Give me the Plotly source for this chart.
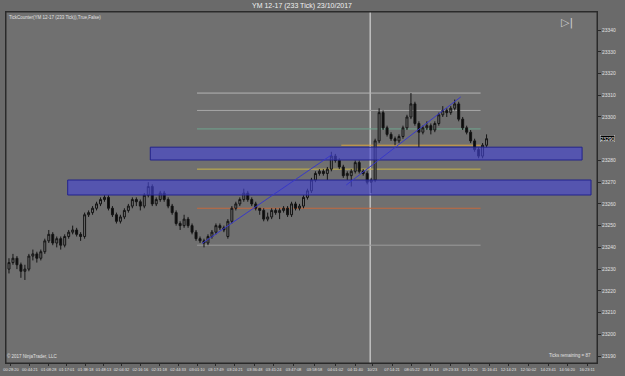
import plotly.graph_objects as go

# ---------------- data ----------------
opens = [23230, 23233, 23235, 23232, 23229, 23230, 23236, 23237, 23235, 23238,
         23243, 23246, 23242, 23244, 23241, 23245, 23247, 23248, 23246, 23245,
         23255, 23256, 23258, 23260, 23262, 23263, 23258, 23255, 23252, 23254,
         23257, 23259, 23262, 23261, 23259, 23264, 23268, 23260, 23262, 23265,
         23262, 23259, 23256, 23251, 23250, 23253, 23250, 23247, 23244, 23243,
         23242, 23245, 23247, 23250, 23249, 23245, 23252, 23258, 23260, 23262,
         23265, 23262, 23260, 23258, 23257, 23253, 23254, 23257, 23256, 23257,
         23258, 23255, 23260, 23258, 23259, 23263, 23266, 23271, 23274, 23275,
         23274, 23276, 23282, 23280, 23277, 23273, 23273, 23275, 23279, 23275,
         23274, 23270, 23271, 23289, 23302, 23295, 23292, 23290, 23289, 23291,
         23295, 23300, 23306, 23297, 23293, 23295, 23296, 23294, 23297, 23301,
         23303, 23302, 23304, 23306, 23299, 23295, 23293, 23289, 23285, 23282,
         23287]
highs = [23235, 23237, 23236, 23233, 23232, 23237, 23239, 23238, 23239, 23244,
         23248, 23247, 23245, 23245, 23246, 23248, 23250, 23249, 23247, 23256,
         23257, 23259, 23261, 23263, 23264, 23264, 23259, 23256, 23255, 23258,
         23260, 23263, 23263, 23262, 23265, 23270, 23269, 23263, 23266, 23266,
         23263, 23260, 23257, 23252, 23255, 23254, 23251, 23248, 23245, 23244,
         23246, 23248, 23251, 23251, 23250, 23253, 23259, 23261, 23263, 23267,
         23266, 23263, 23261, 23258, 23258, 23256, 23258, 23258, 23258, 23259,
         23259, 23261, 23261, 23260, 23264, 23267, 23272, 23275, 23276, 23276,
         23277, 23284, 23283, 23281, 23278, 23275, 23276, 23280, 23280, 23276,
         23275, 23272, 23290, 23304, 23303, 23296, 23293, 23291, 23292, 23296,
         23301, 23311, 23307, 23298, 23296, 23298, 23297, 23298, 23302, 23305,
         23304, 23305, 23308, 23307, 23300, 23296, 23294, 23290, 23286, 23288,
         23292]
lows = [23228, 23232, 23230, 23226, 23225, 23229, 23234, 23233, 23234, 23237,
        23242, 23241, 23240, 23239, 23240, 23244, 23246, 23245, 23243, 23244,
        23254, 23255, 23257, 23259, 23261, 23257, 23254, 23251, 23251, 23253,
        23256, 23258, 23259, 23257, 23258, 23263, 23259, 23259, 23261, 23261,
        23258, 23255, 23250, 23248, 23249, 23249, 23246, 23243, 23242, 23240,
        23241, 23244, 23246, 23248, 23247, 23244, 23251, 23257, 23259, 23261,
        23261, 23259, 23257, 23255, 23252, 23252, 23253, 23255, 23253, 23256,
        23254, 23254, 23257, 23257, 23258, 23262, 23265, 23270, 23273, 23273,
        23271, 23275, 23279, 23276, 23272, 23271, 23268, 23274, 23274, 23273,
        23269, 23265, 23270, 23288, 23294, 23291, 23289, 23287, 23288, 23290,
        23294, 23299, 23296, 23286, 23292, 23294, 23292, 23293, 23296, 23300,
        23300, 23301, 23303, 23298, 23294, 23292, 23288, 23284, 23281, 23281,
        23286]
closes = [23233, 23235, 23232, 23229, 23230, 23236, 23237, 23235, 23238, 23243,
          23246, 23242, 23244, 23241, 23245, 23247, 23248, 23246, 23245, 23255,
          23256, 23258, 23260, 23262, 23263, 23258, 23255, 23252, 23254, 23257,
          23259, 23262, 23261, 23259, 23264, 23268, 23260, 23262, 23265, 23262,
          23259, 23256, 23251, 23250, 23253, 23250, 23247, 23244, 23243, 23242,
          23245, 23247, 23250, 23249, 23248, 23252, 23258, 23260, 23262, 23265,
          23262, 23260, 23258, 23257, 23253, 23254, 23257, 23256, 23257, 23258,
          23255, 23260, 23258, 23259, 23263, 23266, 23271, 23274, 23275, 23274,
          23276, 23282, 23280, 23277, 23273, 23274, 23275, 23279, 23275, 23274,
          23270, 23271, 23289, 23302, 23295, 23292, 23290, 23289, 23291, 23295,
          23300, 23306, 23297, 23293, 23295, 23296, 23294, 23297, 23301, 23303,
          23302, 23304, 23306, 23299, 23295, 23293, 23289, 23285, 23282, 23287,
          23290]
bars = list(range(len(closes)))

# x-axis time labels (bar index position, label)
xtick_pos = [0.5, 5.25, 10, 14.5, 19.25, 23.75, 28.25, 33, 37.75, 42.5, 47.25,
             52, 56.75, 61.75, 66.5, 71.5, 76.75, 82, 87, 91.25, 96.25, 101.25,
             106, 111, 115.75, 120.75, 125.5, 130.5, 135.5, 140.25, 145.25, 150.25]
xtick_text = ["00:28:20", "00:44:21", "01:08:28", "01:17:01", "01:38:18", "01:48:13",
              "02:04:32", "02:16:16", "02:31:18", "02:44:33", "03:01:10", "03:17:49",
              "03:24:21", "03:36:48", "03:41:24", "03:47:08", "03:58:58", "04:01:02",
              "04:11:40", "10/23", "07:14:21", "08:05:22", "08:33:14", "09:23:33",
              "10:15:20", "11:16:41", "12:14:23", "12:50:02", "14:23:41", "14:56:20",
              "16:23:11", "16:41:33"]

# y-axis price labels
ytick_vals = [23340, 23330, 23320, 23310, 23300, 23280, 23270, 23260, 23250,
              23240, 23230, 23220, 23210, 23200, 23190]
last_price = 23290

# drawn objects
zone_x0 = [35.5, 14.75]
zone_x1 = [144.0, 146.25]
zone_lo = [23280.2, 23264.1]
zone_hi = [23286.1, 23271.0]

fib_levels = [23311.0, 23303.0, 23294.5, 23276.0, 23258.0, 23241.0]
fib_colors = ["#b4b4b4", "#a6a6a6", "#6fa58f", "#c8b446", "#c2683e", "#9a9a9a"]
fib_x0 = 47.25
fib_x1 = 118.5
extra_level = 23287.0
extra_x0 = 83.5

trend_x0 = [48.5, 84.75]
trend_y0 = [23241.8, 23268.7]
trend_x1 = [81.0, 113.5]
trend_y1 = [23282.5, 23309.2]

session_bar = 90.75

XR = [-0.75, 147.75]
YR = [23186.8, 23348.3]

BG = "#707070"
FONT = "Liberation Sans, Arial, sans-serif"

fig = go.Figure()
fig.add_trace(go.Candlestick(
    x=bars, open=opens, high=highs, low=lows, close=closes,
    increasing=dict(line=dict(color="#151515", width=1), fillcolor=BG),
    decreasing=dict(line=dict(color="#151515", width=1), fillcolor="#0a0a0a"),
    whiskerwidth=0, showlegend=False, hoverinfo="skip"))

shapes = []
for x0, x1, lo, hi in zip(zone_x0, zone_x1, zone_lo, zone_hi):
    shapes.append(dict(type="rect", xref="x", yref="y", x0=x0, x1=x1, y0=lo, y1=hi,
                       fillcolor="rgba(70,70,215,0.62)",
                       line=dict(color="#23238c", width=1), layer="above"))
for lvl, col in zip(fib_levels, fib_colors):
    shapes.append(dict(type="line", xref="x", yref="y", x0=fib_x0, x1=fib_x1,
                       y0=lvl, y1=lvl, line=dict(color=col, width=1), layer="below"))
shapes.append(dict(type="line", xref="x", yref="y", x0=extra_x0, x1=fib_x1,
                   y0=extra_level, y1=extra_level, line=dict(color="#d9a441", width=1),
                   layer="below"))
for x0, y0, x1, y1 in zip(trend_x0, trend_y0, trend_x1, trend_y1):
    shapes.append(dict(type="line", xref="x", yref="y", x0=x0, y0=y0, x1=x1, y1=y1,
                       line=dict(color="#3838c8", width=1), layer="above"))
shapes.append(dict(type="line", xref="x", yref="paper", x0=session_bar, x1=session_bar,
                   y0=0, y1=1, line=dict(color="#e6e6e6", width=1), layer="below"))
# outer frame
shapes.append(dict(type="rect", xref="paper", yref="paper", x0=0, x1=1, y0=0, y1=1,
                   line=dict(color="#2a2a2a", width=1), fillcolor="rgba(0,0,0,0)"))

in_vals = [p for p in xtick_pos if XR[0] <= p <= XR[1]]
in_text = [t for p, t in zip(xtick_pos, xtick_text) if XR[0] <= p <= XR[1]]
out_items = [(p, t) for p, t in zip(xtick_pos, xtick_text) if p > XR[1]]

annotations = [
    dict(text="YM 12-17 (233 Tick) 23/10/2017", xref="paper", yref="paper",
         x=0.5, y=1, yshift=6, xanchor="center", yanchor="middle", showarrow=False,
         font=dict(size=7, color="#f0f0f0", family=FONT)),
    dict(text="TickCounter(YM 12-17 (233 Tick)),True,False)", xref="paper", yref="paper",
         x=0, y=1, xshift=1, yshift=-1, xanchor="left", yanchor="top", showarrow=False,
         font=dict(size=4.5, color="#e0e0e0", family=FONT)),
    dict(text="© 2017 NinjaTrader, LLC", xref="paper", yref="paper",
         x=0, y=0, xshift=-1, yshift=2, xanchor="left", yanchor="bottom", showarrow=False,
         font=dict(size=4.5, color="#e0e0e0", family=FONT)),
    dict(text="Ticks remaining = 87", xref="paper", yref="paper",
         x=1, y=0, xshift=-4, yshift=3, xanchor="right", yanchor="bottom", showarrow=False,
         font=dict(size=4.5, color="#e0e0e0", family=FONT)),
    dict(text="▷|", xref="paper", yref="paper", x=1, y=1, xshift=-22, yshift=-2,
         xanchor="right", yanchor="top", showarrow=False,
         font=dict(size=11, color="#cfcfcf", family="DejaVu Sans")),
    dict(text=str(last_price), xref="paper", yref="y", x=1, y=last_price, xshift=3,
         xanchor="left", yanchor="middle", showarrow=False, bgcolor="#000000",
         bordercolor="#d0d0d0", borderwidth=0.5, borderpad=0,
         font=dict(size=5, color="#ffffff", family=FONT)),
]
for p, t in out_items:
    annotations.append(dict(text=t, xref="x", yref="paper", x=p, y=0, yshift=-2,
                            xanchor="center", yanchor="top", showarrow=False,
                            font=dict(size=4, color="#e0e0e0", family=FONT)))

fig.update_layout(
    width=625, height=376, autosize=False,
    margin=dict(l=3, r=28, t=12, b=13),
    paper_bgcolor="#6a6a6a", plot_bgcolor=BG,
    font=dict(family=FONT, color="#e0e0e0"),
    showlegend=False,
    shapes=shapes, annotations=annotations,
    xaxis=dict(range=XR, showgrid=False, zeroline=False, showline=True,
               linecolor="#2a2a2a", linewidth=1, mirror=True,
               ticks="outside", ticklen=2, tickcolor="#2a2a2a",
               tickvals=in_vals, ticktext=in_text, tickangle=0,
               tickfont=dict(size=4, color="#e0e0e0", family=FONT),
               rangeslider=dict(visible=False), fixedrange=True),
    yaxis=dict(range=YR, side="right", showgrid=False, zeroline=False, showline=True,
               linecolor="#2a2a2a", linewidth=1, mirror=True,
               ticks="outside", ticklen=3, tickcolor="#2a2a2a",
               tickvals=ytick_vals, ticktext=[str(v) for v in ytick_vals],
               tickfont=dict(size=5, color="#e0e0e0", family=FONT), fixedrange=True),
)

fig.write_html("out.html")
